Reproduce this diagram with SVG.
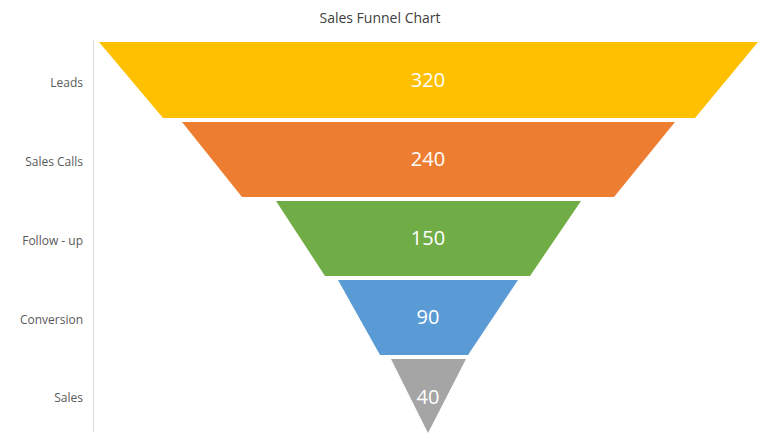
<svg xmlns="http://www.w3.org/2000/svg" width="774" height="448" viewBox="0 0 774 448">
<style>
.lbl{font-family:"Open Sans","Liberation Sans",sans-serif;font-size:12px;fill:#595959;text-anchor:end}
.val{font-family:"Open Sans","Liberation Sans",sans-serif;font-size:20px;fill:#fff;text-anchor:middle}
.ttl{font-family:"Open Sans","Liberation Sans",sans-serif;font-size:14px;fill:#404040;text-anchor:middle}
</style>
<rect width="774" height="448" fill="#fff"/>
<text class="ttl" x="380" y="23">Sales Funnel Chart</text>
<line x1="93.5" y1="40" x2="93.5" y2="432" stroke="#d9d9d9"/>
<g id="leads"><polygon points="99,42 758,42 695,118 163,118" fill="#ffc000"/><text class="lbl" x="83" y="87">Leads</text><text class="val" x="428" y="87">320</text></g>
<g id="salescalls"><polygon points="182,122 675,122 614,197 242,197" fill="#ed7d31"/><text class="lbl" x="83" y="166">Sales Calls</text><text class="val" x="428" y="166">240</text></g>
<g id="followup"><polygon points="276,201 581,201 530,276 325,276" fill="#70ad47"/><text class="lbl" x="83" y="245">Follow - up</text><text class="val" x="428" y="245">150</text></g>
<g id="conversion"><polygon points="338,280 518,280 468,355 380,355" fill="#5b9bd5"/><text class="lbl" x="83" y="324">Conversion</text><text class="val" x="428" y="324">90</text></g>
<g id="sales"><polygon points="391,359 466,359 428,433" fill="#a5a5a5"/><text class="lbl" x="83" y="402">Sales</text><text class="val" x="428" y="404">40</text></g>
<g id="connectors"/>
</svg>
